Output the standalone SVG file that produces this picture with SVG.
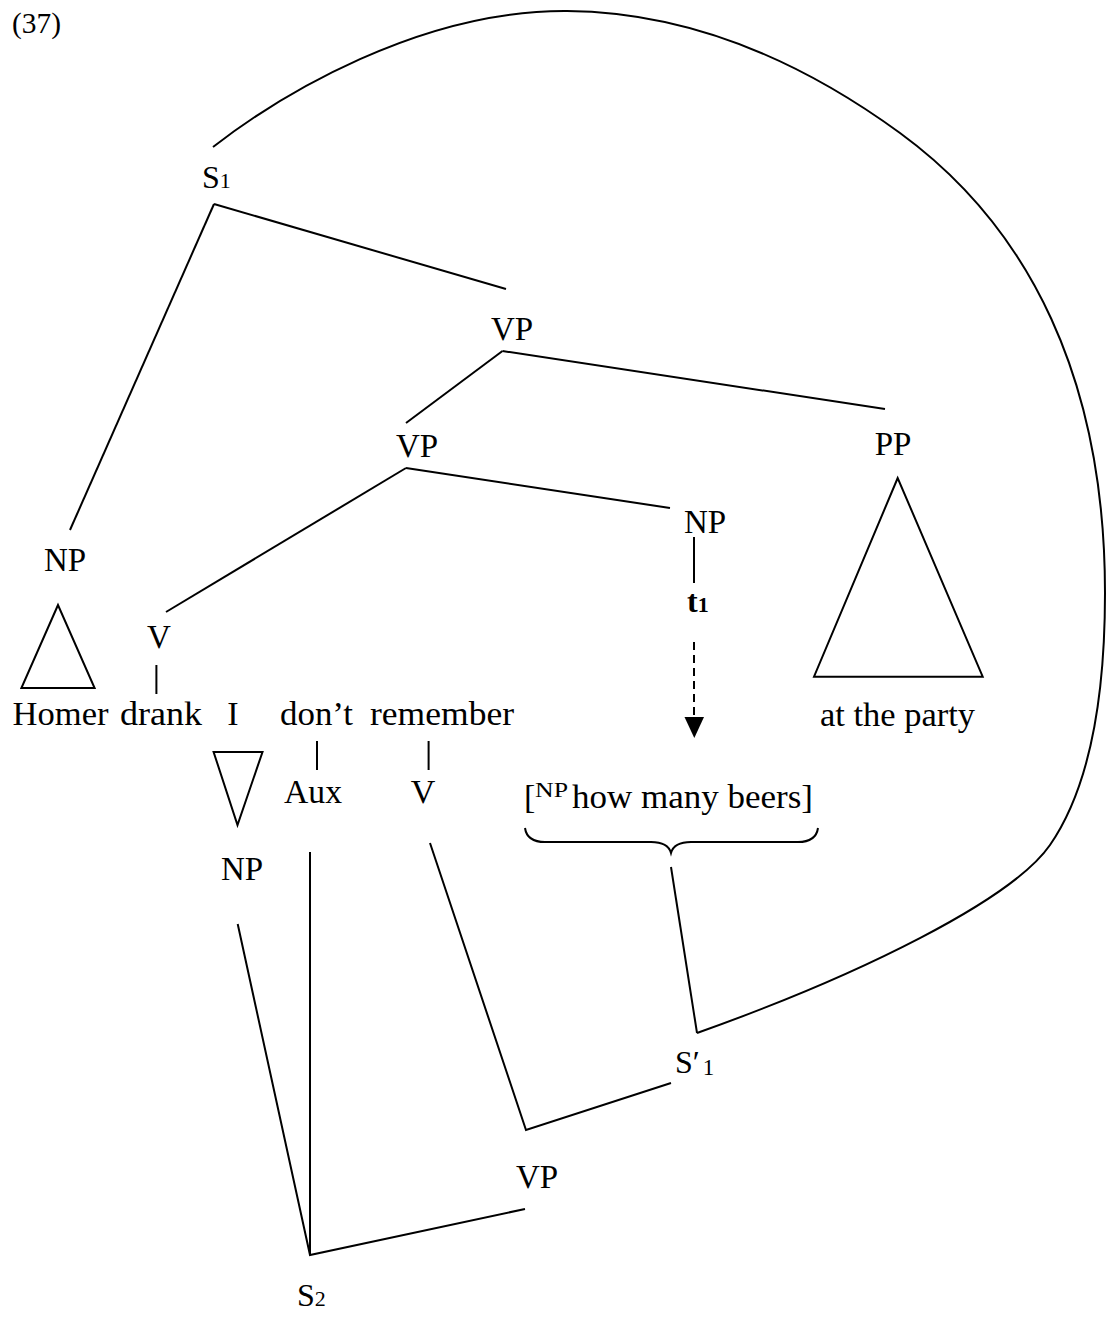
<svg xmlns="http://www.w3.org/2000/svg" width="1110" height="1320" viewBox="0 0 1110 1320">
<style>
text{font-family:"Liberation Serif","Times New Roman",serif;fill:#000;}
.lb{font-size:33px;text-anchor:middle;}
.wd{font-size:34px;}
.sub{font-size:22px;}
.ln{stroke:#000;stroke-width:2;fill:none;}
.tri{stroke:#000;stroke-width:2;fill:none;stroke-linejoin:miter;}
</style>
<rect width="1110" height="1320" fill="#fff"/>
<text x="12" y="33" style="font-size:30px" textLength="49" lengthAdjust="spacingAndGlyphs">(37)</text>
<g id="connectors">
<path class="ln" d="M214,204 L70,530"/>
<path class="ln" d="M214,204 L506,289"/>
<path class="ln" d="M502.5,351 L406,423"/>
<path class="ln" d="M502.5,351 L885,409"/>
<path class="ln" d="M406,468 L166,612"/>
<path class="ln" d="M406,468 L670,508"/>
<path class="ln" d="M694,537 L694,583"/>
<path class="ln" d="M694,642 L694,718" stroke-dasharray="8,5"/>
<polygon points="684.5,717 704,717 694.3,738" fill="#000"/>
<path class="ln" d="M156.4,665 L156.4,694"/>
<path class="ln" d="M317,741 L317,770"/>
<path class="ln" d="M428.6,741 L428.6,770"/>
<path class="ln" d="M237.7,924 L310,1255 L525,1209"/>
<path class="ln" d="M310,852 L310,1255"/>
<path class="ln" d="M430,843 L526,1130 L671,1083"/>
<path class="ln" d="M671,867 L697,1033"/>
<path class="ln" d="M213,147 C280,95 420,10 567,11 C690,12 800,60 900,133 C1030,228 1105,380 1105,593 C1105,705 1088,790 1050,845 C1012,900 860,975 697,1033"/>
</g>
<g id="n-S1"><text x="202" y="188" style="font-size:32px">S<tspan class="sub">1</tspan></text></g>
<g id="n-VP1"><text class="lb" x="512" y="340">VP</text></g>
<g id="n-VP2"><text class="lb" x="417" y="457">VP</text></g>
<g id="n-PP"><text class="lb" x="893" y="455">PP</text>
<polygon class="tri" points="897.7,478 814,676.7 982.7,676.7"/></g>
<g id="n-NP-obj"><text class="lb" x="705" y="533">NP</text></g>
<g id="n-t1"><text x="687" y="612" style="font-size:32px;font-weight:bold">t<tspan style="font-size:22px">1</tspan></text></g>
<g id="n-NP-subj"><text class="lb" x="65" y="571">NP</text>
<polygon class="tri" points="58,605 21.4,688 94.6,688"/></g>
<g id="n-V1"><text class="lb" x="159" y="648">V</text></g>
<g id="words">
<text class="wd" x="12.5" y="725" textLength="96" lengthAdjust="spacingAndGlyphs">Homer</text>
<text class="wd" x="120" y="725" textLength="82" lengthAdjust="spacingAndGlyphs">drank</text>
<text class="wd" x="233" y="725" text-anchor="middle">I</text>
<text class="wd" x="280" y="725" textLength="73" lengthAdjust="spacingAndGlyphs">don’t</text>
<text class="wd" x="370" y="725" textLength="144" lengthAdjust="spacingAndGlyphs">remember</text>
<text class="wd" x="820" y="726" textLength="155" lengthAdjust="spacingAndGlyphs">at the party</text>
</g>
<g id="n-NP-I"><polygon class="tri" points="213.6,752 262.5,752 237.5,825"/>
<text class="lb" x="242" y="880">NP</text></g>
<g id="n-Aux"><text class="wd" x="284" y="803" textLength="58" lengthAdjust="spacingAndGlyphs">Aux</text></g>
<g id="n-V2"><text class="wd" x="423" y="803" text-anchor="middle">V</text></g>
<g id="n-NP-wh">
<text class="wd" x="524" y="808">[</text>
<text x="535" y="797" style="font-size:22px" textLength="33" lengthAdjust="spacingAndGlyphs">NP</text>
<text class="wd" x="572" y="808" textLength="241" lengthAdjust="spacingAndGlyphs">how many beers]</text>
<path class="ln" d="M525,828 Q527,842 545,842 L651,842 Q668,842 671,853 Q674,842 691,842 L798,842 Q816,842 818,828"/>
</g>
<g id="n-S1p"><text x="675" y="1073" style="font-size:32px">S′<tspan style="font-size:23px" dx="3" dy="2">1</tspan></text></g>
<g id="n-VP3"><text class="lb" x="537" y="1188">VP</text></g>
<g id="n-S2"><text x="297" y="1306" style="font-size:32px">S<tspan class="sub">2</tspan></text></g>
</svg>
